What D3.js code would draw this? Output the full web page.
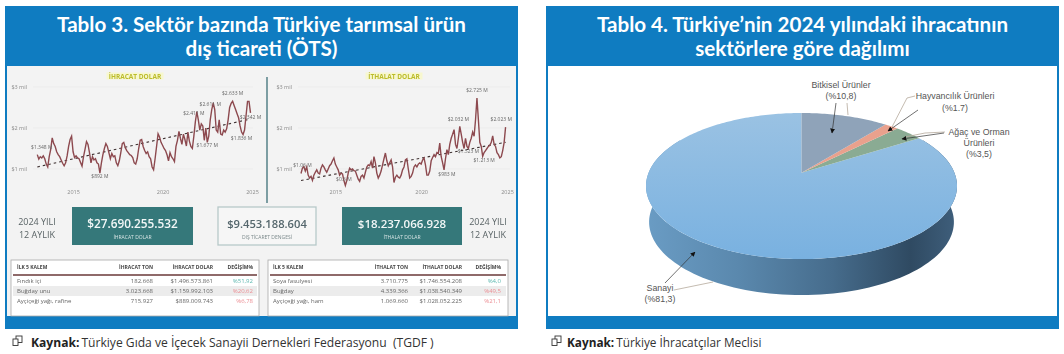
<!DOCTYPE html>
<html lang="tr">
<head>
<meta charset="utf-8">
<script src="https://d3js.org/d3.v7.min.js"></script>
<style>
  html, body { margin: 0; padding: 0; background: #fff; }
  svg { display: block; }
  text { font-family: "Open Sans", sans-serif; white-space: pre; }
</style>
</head>
<body>
<div id="wrapper"></div>
<script>
// aylik degerler (milyar $), Ocak 2013 - Aralik 2024
const ihracatValues = [
  1.35,1.24,1.30,1.27,1.32,1.25,1.12,1.05,1.30,1.48,1.76,1.62,
  1.55,1.42,1.35,1.30,1.22,1.14,1.08,1.15,1.32,1.55,1.72,1.80,
  1.42,1.28,1.32,1.27,1.25,1.16,1.07,1.30,1.48,1.67,1.60,1.40,
  1.15,1.30,1.22,1.25,1.15,1.12,0.90,1.15,1.35,1.50,1.62,1.55,
  1.40,1.25,1.38,1.30,1.32,1.15,1.08,1.20,1.40,1.62,1.65,1.52,
  1.45,1.40,1.35,1.33,1.28,1.15,1.12,1.25,1.50,1.70,1.72,1.55,
  1.45,1.38,1.42,1.30,1.25,1.05,0.98,1.25,1.55,1.86,1.78,1.65,
  1.58,1.50,1.45,1.35,1.20,1.40,1.30,1.25,1.18,1.55,1.70,1.92,
  1.75,1.60,1.85,1.72,1.56,1.90,1.68,1.55,1.50,1.80,2.15,2.40,
  2.20,1.95,2.10,2.05,1.70,2.00,1.65,1.80,2.20,2.45,2.61,2.45,
  1.95,1.90,2.20,1.85,1.83,1.95,1.90,1.98,2.20,2.50,2.60,2.65,
  2.55,2.45,2.35,2.25,2.05,1.90,1.84,1.95,2.30,2.65,2.65,2.37
];
const ithalatValues = [
  0.89,1.02,1.06,0.95,1.05,0.85,0.78,0.82,0.72,0.85,0.92,0.98,
  0.90,0.88,1.02,1.10,1.05,0.98,0.92,1.00,1.08,1.12,1.20,1.27,
  1.12,1.05,0.98,0.85,0.90,0.88,0.72,0.60,0.72,0.90,1.02,0.98,
  1.00,0.96,0.95,0.85,0.75,0.70,0.82,0.85,0.78,0.92,1.05,1.10,
  1.08,1.18,1.02,1.30,1.15,0.90,0.78,0.85,0.95,1.10,1.25,1.39,
  1.20,1.08,1.15,1.22,1.05,0.67,0.80,0.85,0.80,0.78,0.85,0.98,
  1.05,1.22,1.25,1.00,0.78,0.82,0.90,1.05,1.10,1.05,1.12,1.15,
  1.12,1.22,1.27,1.10,0.85,0.85,0.95,1.20,1.28,1.35,1.30,1.40,
  1.38,1.63,1.30,1.15,0.98,1.25,1.47,1.35,1.60,1.75,1.85,1.96,
  1.60,1.50,1.75,2.04,1.85,1.65,1.50,1.75,1.55,1.50,1.65,1.75,
  1.90,1.80,2.20,2.73,2.20,1.65,1.55,1.31,1.40,1.45,1.50,1.55,
  1.58,1.65,1.81,1.60,1.55,1.40,1.35,1.27,1.30,1.45,1.65,2.02
];
const ihracatTrend = [1.05, 2.22];
const ithalatTrend = [0.72, 1.65];

const yTicks = [1, 2, 3];
const xTicks = [24, 84, 144];
const yearLabels = ["2015", "2020", "2025"];

// [ay indeksi, deger, etiket]
const ihracatLabels = [
  [3, 1.48, "$1.348 M"], [42, 0.77, "$892 M"], [105, 2.32, "$2.411 M"], [116, 2.54, "$2.611 M"],
  [114, 1.53, "$1.677 M"], [131, 2.80, "$2.633 M"], [137, 1.70, "$1.836 M"], [143, 2.22, "$2.342 M"]
];
const ithalatLabels = [
  [1, 1.05, "$1.06 M"], [30, 0.70, "$0.6 M"], [102, 0.84, "$983 M"], [110, 2.16, "$2.032 M"],
  [117, 1.38, "$1.523 M"], [123, 2.87, "$2.725 M"], [128, 1.16, "$1.213 M"], [140, 2.16, "$2.023 M"]
];

const pieNames = ["Bitkisel", "Hayvancılık", "Ağaç ve Orman", "Sanayi"];
const pieValues = [10.8, 1.7, 3.5, 81.3];
const pieColors = ["#8fa3b9", "#e9a18d", "#8aab93", "url(#topGrad)"];

const tableHeadL = ["İLK 5 KALEM", "İHRACAT TON", "İHRACAT DOLAR", "DEĞİŞİM%"];
const tableHeadR = ["İLK 5 KALEM", "İTHALAT TON", "İTHALAT DOLAR", "DEĞİŞİM%"];
const rowsL = [
  ["Fındık içi", "182.668", "$1.496.573.861", "%51,92"],
  ["Buğday unu", "3.023.668", "$1.159.992.103", "%20,62"],
  ["Ayçiçeği yağı, rafine", "715.927", "$889.009.743", "%6,78"]
];
const rowsR = [
  ["Soya fasulyesi", "3.710.775", "$1.746.554.208", "%4,0"],
  ["Buğday", "4.339.366", "$1.038.540.349", "%49,5"],
  ["Ayçiçeği yağı, ham", "1.069.660", "$1.028.052.225", "%21,1"]
];
const changeColorsL = ["#5db8b0", "#ec8f95", "#ec8f95"];
const changeColorsR = ["#5db8b0", "#ec8f95", "#ec8f95"];

const width = 1064;
const height = 354;
const blue = "#0f7cc1";
const teal = "#35787a";

const svg = d3.select("#wrapper").append("svg")
  .attr("width", width)
  .attr("height", height)
  .style("background", "#fff");

const defs = svg.append("defs");
defs.append("filter").attr("id", "soft")
  .append("feGaussianBlur").attr("stdDeviation", 0.4);

/// panel frames
function panel(x0, x1, titleLines, fill) {
  const g = svg.append("g");
  g.append("rect").attr("x", x0).attr("y", 6).attr("width", x1 - x0).attr("height", 323).attr("fill", blue);
  g.append("rect").attr("x", x0 + 2).attr("y", 66).attr("width", x1 - x0 - 4).attr("height", 250).attr("fill", fill);
  g.selectAll("text").data(titleLines).join("text")
    .attr("x", (x0 + x1) / 2)
    .attr("y", (d, i) => 32 + i * 24)
    .attr("text-anchor", "middle")
    .attr("fill", "#fff")
    .attr("font-size", 20.6)
    .attr("font-weight", 700)
    .style("font-family", "Lato, sans-serif")
    .text(d => d);
}
panel(5, 518, ["Tablo 3. Sektör bazında Türkiye tarımsal ürün", "dış ticareti (ÖTS)"], "#f3f3f3");
panel(546, 1059, ["Tablo 4. Türkiye’nin 2024 yılındaki ihracatının", "sektörlere göre dağılımı"], "#fff");

/// source lines
function source(x, textX, size, text) {
  const icon = svg.append("g").attr("fill", "#fff").attr("stroke", "#333").attr("stroke-width", 0.9);
  icon.append("rect").attr("x", x + 3).attr("y", 336).attr("width", 6).attr("height", 6.5);
  icon.append("rect").attr("x", x).attr("y", 339).attr("width", 5).attr("height", 6.5);
  const t = svg.append("text").attr("x", textX).attr("y", 347).attr("font-size", size).attr("fill", "#222");
  t.append("tspan").attr("font-weight", 700).text("Kaynak:");
  t.append("tspan").attr("dx", 2).attr("fill", "#333").text(text);
}
source(13, 31, 12.1, "Türkiye Gıda ve İçecek Sanayii Dernekleri Federasyonu  (TGDF )");
source(552, 567, 11.8, "Türkiye İhracatçılar Meclisi");

/// dashboard content of the left panel
const dash = svg.append("g").attr("filter", "url(#soft)");

function lineChart(values, trend, labels, title, titleX, x0, x1, gridX0, gridX1) {
  const x = d3.scaleLinear().domain([0, 144]).range([x0, x1]);
  const y = d3.scaleLinear().domain([1, 3]).range([169, 87]);
  const g = dash.append("g");

  const yAxis = d3.axisLeft(y).tickValues(yTicks).tickSize(0).tickPadding(6)
    .tickFormat(d => "$" + d + " mil");
  const yG = g.append("g").attr("transform", `translate(${gridX0},0)`).call(yAxis);
  yG.select(".domain").remove();
  yG.selectAll("text").attr("font-size", 5.5).attr("fill", "#8a8a8a");

  g.selectAll("line.grid").data(yTicks).join("line").attr("class", "grid")
    .attr("x1", gridX0).attr("x2", gridX1)
    .attr("y1", d => y(d)).attr("y2", d => y(d))
    .attr("stroke", "#e9e9e9").attr("stroke-width", 0.7);

  const xAxis = d3.axisBottom(x).tickValues(xTicks).tickSize(0).tickPadding(0)
    .tickFormat((d, i) => yearLabels[i]);
  const xG = g.append("g").attr("transform", "translate(0,190)").call(xAxis);
  xG.select(".domain").remove();
  xG.selectAll("text").attr("font-size", 5.5).attr("fill", "#8a8a8a");

  g.append("path")
    .attr("d", d3.line().x(d => x(d[0])).y(d => y(d[1]))([[0, trend[0]], [143, trend[1]]]))
    .attr("stroke", "#3d3030").attr("stroke-width", 1.1).attr("stroke-dasharray", "2.6 3").attr("fill", "none");

  g.append("path")
    .attr("d", d3.line().x((d, i) => x(i)).y(d => y(d))(values))
    .attr("stroke", "#8d4a4f").attr("stroke-width", 1.4).attr("fill", "none");

  g.selectAll("text.lab").data(labels).join("text").attr("class", "lab")
    .attr("x", d => x(d[0])).attr("y", d => y(d[1]))
    .attr("text-anchor", "middle")
    .attr("font-size", 5).attr("fill", "#666")
    .text(d => d[2]);

  const tw = 57;
  g.append("rect").attr("x", titleX - tw / 2).attr("y", 72.5).attr("width", tw).attr("height", 7).attr("fill", "#f7f7cf");
  g.append("text").attr("x", titleX).attr("y", 78.5).attr("text-anchor", "middle")
    .attr("font-size", 6.5).attr("font-weight", 700).attr("fill", "#bcbc2c").text(title);
}
lineChart(ihracatValues, ihracatTrend, ihracatLabels, "İHRACAT DOLAR", 135, 37.3, 252, 33, 253);
lineChart(ithalatValues, ithalatTrend, ithalatLabels, "İTHALAT DOLAR", 394, 301, 507, 298, 510);

dash.append("line").attr("x1", 267).attr("x2", 267).attr("y1", 77).attr("y2", 203)
  .attr("stroke", "#4a7a80").attr("stroke-width", 1.4);

function kpi(x, w, value, sub, filled, size) {
  const cx = x + w / 2;
  dash.append("rect").attr("x", x).attr("y", 207).attr("width", w).attr("height", 38)
    .attr("fill", filled ? teal : "#f6f6f6")
    .attr("stroke", filled ? "none" : "#b7c9c9").attr("stroke-width", 1.3);
  dash.append("text").attr("x", cx).attr("y", 228).attr("text-anchor", "middle")
    .attr("font-size", size).attr("font-weight", 600).attr("fill", filled ? "#f2f7f7" : "#54666c").text(value);
  dash.append("text").attr("x", cx).attr("y", 239).attr("text-anchor", "middle")
    .attr("font-size", 5).attr("fill", filled ? "#d6e4e4" : "#7c8a8c").text(sub);
}
kpi(72, 121, "$27.690.255.532", "İHRACAT DOLAR", true, 11.8);
kpi(218, 98, "$9.453.188.604", "DIŞ TİCARET DENGESİ", false, 11.2);
kpi(342, 120, "$18.237.066.928", "İTHALAT DOLAR", true, 11.5);

[[37, 0], [488, 1]].forEach(d => {
  ["2024 YILI", "12 AYLIK"].forEach((t, i) => {
    dash.append("text").attr("x", d[0]).attr("y", 224.5 + i * 13.5).attr("text-anchor", "middle")
      .attr("font-size", 9).attr("fill", "#5a6466").text(t);
  });
});

function table(x0, x1, nameX, colRight, head, rows, changeColors) {
  const g = dash.append("g");
  g.append("rect").attr("x", x0).attr("y", 260).attr("width", x1 - x0).attr("height", 56)
    .attr("fill", "#fff").attr("stroke", "#a9a9a9").attr("stroke-width", 0.8);
  g.append("rect").attr("x", x0 + 2).attr("y", 274).attr("width", x1 - x0 - 4).attr("height", 2).attr("fill", "#8f6b6b");
  g.append("rect").attr("x", x0 + 2).attr("y", 286).attr("width", x1 - x0 - 4).attr("height", 10).attr("fill", "#ececec");
  g.selectAll("text.head").data(head).join("text").attr("class", "head")
    .attr("x", (d, i) => i === 0 ? nameX : colRight[i - 1])
    .attr("y", 269)
    .attr("text-anchor", (d, i) => i === 0 ? "start" : "end")
    .attr("font-size", 5).attr("font-weight", 700).attr("fill", "#444").text(d => d);
  rows.forEach((row, r) => {
    g.selectAll("text.r" + r).data(row).join("text").attr("class", "r" + r)
      .attr("x", (d, i) => i === 0 ? nameX : colRight[i - 1])
      .attr("y", 283 + r * 10)
      .attr("text-anchor", (d, i) => i === 0 ? "start" : "end")
      .attr("font-size", 6).attr("fill", (d, i) => i === 3 ? changeColors[r] : "#666").text(d => d);
  });
}
table(11, 259, 17, [153, 213, 253], tableHeadL, rowsL, changeColorsL);
table(268, 508, 273, [408, 462, 501], tableHeadR, rowsR, changeColorsR);

/// 3D pie of the right panel
const pie = svg.append("g");
const apexX = 801.5, apexY = 172.7;
const depth = 36;
const persp = 0.1825;   // perspective, centre of the disc sits above the ellipse centre
const scaleX = 152.9, scaleY = 70.6;
const angle = d3.scaleLinear().domain([0, 100]).range([0, 2 * Math.PI]);

function rim(a, dy = 0) {
  const w = 1 + persp * Math.cos(a);
  return [apexX + scaleX * Math.sin(a) / w, apexY - scaleY * Math.cos(a) / w + dy];
}
const line = d3.line();

const sideGrad = defs.append("linearGradient").attr("id", "sideGrad")
  .attr("gradientUnits", "userSpaceOnUse").attr("x1", 646).attr("x2", 957).attr("y1", 0).attr("y2", 0);
[[0, "#6a9cc4"], [0.3, "#5a88ad"], [0.6, "#466c8c"], [0.85, "#2f4a62"], [1, "#3f5f7c"]]
  .forEach(d => sideGrad.append("stop").attr("offset", d[0]).attr("stop-color", d[1]));
const topGrad = defs.append("linearGradient").attr("id", "topGrad")
  .attr("gradientUnits", "userSpaceOnUse").attr("x1", 0).attr("x2", 0).attr("y1", 113).attr("y2", 259);
[[0, "#9ac2e3"], [1, "#79b1e0"]]
  .forEach(d => topGrad.append("stop").attr("offset", d[0]).attr("stop-color", d[1]));

// side wall: lower half of the rim, pushed down by depth
const sideAngles = d3.range(60, 301, 2).map(d => d * Math.PI / 180);
const sideTop = sideAngles.map(a => rim(a));
const sideBottom = sideAngles.map(a => {
  const p = rim(a, depth);
  return [apexX + (p[0] - apexX) * 0.98, p[1]];
}).reverse();
pie.append("path").attr("d", line(sideTop.concat(sideBottom)) + "Z").attr("fill", "url(#sideGrad)");

// slices, clockwise from 12 o'clock; the last one closes the disc
let cum = 0;
const sliceData = pieValues.map((v, i) => {
  const a0 = angle(cum);
  cum += v;
  const a1 = i === pieValues.length - 1 ? 2 * Math.PI : angle(cum);
  return { a0, a1, color: pieColors[i], name: pieNames[i] };
});
pie.selectAll("path.slice").data(sliceData.slice().reverse()).join("path").attr("class", "slice")
  .attr("d", d => {
    const n = Math.ceil((d.a1 - d.a0) / 0.02);
    const pts = d3.range(n + 1).map(k => rim(d.a0 + (d.a1 - d.a0) * k / n));
    return line([[apexX, apexY]].concat(pts)) + "Z";
  })
  .attr("fill", d => d.color);

/// pie labels with leaders and arrows
defs.append("marker").attr("id", "arrow").attr("viewBox", "0 0 10 10").attr("refX", 9).attr("refY", 5)
  .attr("markerWidth", 7).attr("markerHeight", 7).attr("orient", "auto")
  .append("path").attr("d", "M0,0L10,5L0,10Z").attr("fill", "#111");

const pieText = [
  [841, 88, "Bitkisel Ürünler"], [841, 99, "(%10,8)"],
  [955, 99, "Hayvancılık Ürünleri"], [955, 111, "(%1.7)"],
  [979, 135, "Ağaç ve Orman"], [979, 146, "Ürünleri"], [979, 157, "(%3,5)"],
  [660, 291, "Sanayi"], [660, 302, "(%81,3)"]
];
svg.selectAll("text.pielab").data(pieText).join("text").attr("class", "pielab")
  .attr("x", d => d[0]).attr("y", d => d[1])
  .attr("text-anchor", "middle")
  .attr("font-size", 8.8).attr("fill", "#555")
  .style("font-family", "Liberation Sans, sans-serif")
  .text(d => d[2]);

const leaders = [
  [[847, 103], [848, 115]],
  [[915, 96], [907, 98], [892, 127]],
  [[945, 132], [925, 133], [905, 137]],
  [[674, 290], [713, 282]]
];
svg.selectAll("path.leader").data(leaders).join("path").attr("class", "leader")
  .attr("d", d => line(d)).attr("fill", "none").attr("stroke", "#b5aa9c").attr("stroke-width", 0.8);

const arrows = [
  [[836, 103], [832, 133]],
  [[918, 110], [888, 131]],
  [[944, 133], [902, 139]],
  [[665, 283], [695, 252]]
];
svg.selectAll("path.arrow").data(arrows).join("path").attr("class", "arrow")
  .attr("d", d => line(d)).attr("fill", "none").attr("stroke", "#333").attr("stroke-width", 0.7)
  .attr("marker-end", "url(#arrow)");
</script>
</body>
</html>
